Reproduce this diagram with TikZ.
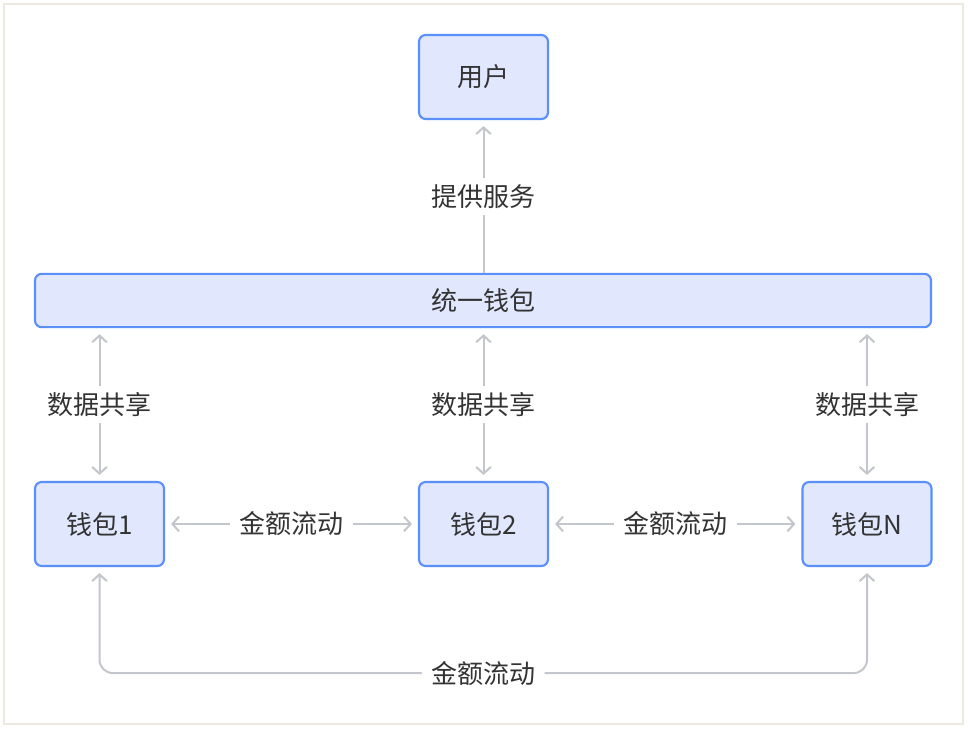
\documentclass[tikz,border=0pt]{standalone}
\usepackage{fontspec}
\setmainfont{Noto Sans CJK SC}
\usepackage{tikz}
\usetikzlibrary{positioning,arrows.meta}
\definecolor{WalletBlue}{HTML}{5B8FF9}
\definecolor{WalletFill}{HTML}{E1E8FD}
\definecolor{FlowGray}{HTML}{C3C6CC}
\definecolor{InkGray}{HTML}{333333}
\definecolor{FrameBeige}{HTML}{ECEAE0}

\begin{document}
\begin{tikzpicture}[x=0.75pt, y=-0.75pt,
    walletbox/.style={draw=WalletBlue, fill=WalletFill, line width=1.6pt,
      rounded corners=5pt, minimum width=96.75pt, minimum height=63pt,
      text=InkGray, font=\fontsize{19.5}{22}\selectfont},
    flow/.style={draw=FlowGray, line width=1.5pt,
      -{Straight Barb[length=5pt,width=11pt]}, shorten >=4.5pt},
    twoway/.style={flow, {Straight Barb[length=5pt,width=11pt]}-{Straight Barb[length=5pt,width=11pt]},
      shorten <=4.5pt},
    flowlabel/.style={fill=white, text=InkGray, inner xsep=7pt, inner ysep=5pt,
      font=\fontsize{19.5}{22}\selectfont}]
  % canvas and frame
  \fill[white] (0,0) rectangle (967,728);
  \draw[FrameBeige, line width=1.8pt] (4,4) rectangle (963,724);

  % nodes
  \node[walletbox] (user) at (483.5,77) {用户};
  \node[walletbox, minimum width=672pt, minimum height=40pt] (unified) at (483,300.5) {统一钱包};
  \node[walletbox] (wallet1) at (99.5,524) {钱包1};
  \node[walletbox] (wallet2) at (483.5,524) {钱包2};
  \node[walletbox] (walletN) at (867,524) {钱包N};

  % connectors
  \draw[flow] (unified.north -| user.south) -- node[flowlabel] {提供服务} (user.south);
  \draw[twoway] (wallet1.north) -- node[flowlabel] {数据共享} (wallet1.north |- unified.south);
  \draw[twoway] (wallet2.north) -- node[flowlabel] {数据共享} (wallet2.north |- unified.south);
  \draw[twoway] (walletN.north) -- node[flowlabel] {数据共享} (walletN.north |- unified.south);
  \draw[twoway] (wallet1.east) -- node[flowlabel] {金额流动} (wallet2.west);
  \draw[twoway] (wallet2.east) -- node[flowlabel] {金额流动} (walletN.west);
  \draw[twoway, rounded corners=10pt] (wallet1.south) -- ++(0,106)
    -| node[near start, flowlabel] {金额流动} (walletN.south);
\end{tikzpicture}
\end{document}
